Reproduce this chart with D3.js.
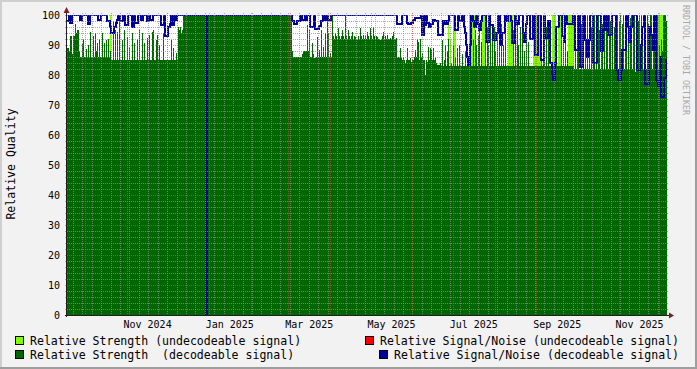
<!DOCTYPE html>
<html>
<head>
<meta charset="utf-8">
<script src="https://cdnjs.cloudflare.com/ajax/libs/d3/7.8.5/d3.min.js"></script>
<style>
	html, body { margin: 0; padding: 0; background: #F2F2F2; }
	svg { display: block; }
	text { white-space: pre; }
</style>
</head>
<body>
<div id="graph"></div>
<script>
// Time window of the graph, every series below has one slot per pixel column
const timeStart = Date.UTC(2024, 8, 17, 16, 48);
const timeEnd = Date.UTC(2025, 11, 6, 21, 36);

// Relative Strength (decodeable signal), one value per slot
const strengthGood = [
	89, 89, 88, 93, 93, 87, 93, 93, 97, 94,
	95, 95, 88, 86, 86, 90.5, 92, 86, 86, 88.6,
	86, 90, 86, 94.4, 86, 86, 93, 86, 94, 88,
	90.6, 86, 92, 86, 86, 94, 86, 90.6, 86, 91.7,
	86, 92, 86, 88, 85, 85, 98, 85, 95, 85,
	94.4, 85, 98, 85, 85, 91.7, 85, 95, 85, 85,
	92.8, 85, 89.4, 85, 85, 94, 85, 90.6, 85, 85,
	92, 85, 95, 85, 85, 94, 85, 90.6, 85, 85,
	92.2, 85, 93.3, 85, 85, 94.4, 95, 85, 85, 91.7,
	93.3, 85, 90, 85, 85, 85, 93.9, 85, 85, 85,
	85, 85, 85, 85, 91.7, 85, 89, 85, 85, 87.2,
	85, 96, 95, 96, 94, 95, 100, 100, 100, 100,
	100, 100, 100, 100, 100, 100, 100, 100, 100, 100,
	100, 100, 100, 100, 100, 100, 100, 100, 100, 100,
	100, 100, 100, 100, 100, 100, 100, 100, 100, 100,
	100, 100, 100, 100, 100, 100, 100, 100, 100, 100,
	100, 100, 100, 100, 100, 100, 100, 100, 100, 100,
	100, 100, 100, 100, 100, 100, 100, 100, 100, 100,
	100, 100, 100, 100, 100, 100, 100, 100, 100, 100,
	100, 100, 100, 100, 100, 100, 100, 100, 100, 100,
	100, 100, 100, 100, 100, 100, 100, 100, 100, 100,
	100, 100, 100, 100, 100, 100, 100, 100, 100, 100,
	100, 100, 100, 100, 100, 88, 86, 86, 86, 86,
	86, 86, 86, 86, 86, 87, 88, 88, 88, 88,
	96.7, 88, 95, 86, 86, 90.6, 87, 85.6, 85.6, 86,
	92.8, 86, 88.3, 86, 95, 86, 89.4, 86, 93.9, 86,
	98.3, 93.9, 86, 87.2, 86, 100, 93, 92, 94, 93,
	92, 95.6, 93, 92, 93, 95, 93, 92, 100, 93,
	92, 95, 93, 92, 93, 94.4, 92, 93, 92.8, 92,
	91.7, 93, 92, 95.6, 93, 92, 93.3, 92, 93, 92,
	94.4, 93, 92, 95.6, 93, 92, 96.1, 93, 92, 93,
	92.8, 92, 92, 91.7, 92, 93, 94.4, 92, 93, 92,
	93.3, 92, 92, 92.2, 92, 93, 94.4, 92, 92, 92.2,
	85.6, 86, 85.6, 88.9, 85.6, 85, 86, 85, 83.9, 85,
	88.9, 85, 85, 85.6, 84.4, 85, 85, 86, 88.3, 86,
	92, 91, 85, 92, 86, 87.2, 85, 85, 80, 85,
	84.4, 89.4, 85, 89, 88.3, 85, 89, 85, 85.6, 84,
	83.3, 83.3, 83.3, 83.9, 83, 91.7, 83, 85, 90, 83,
	88, 92, 83, 83, 84, 83, 90, 83, 86, 83,
	89, 83, 90, 83, 83, 87, 83, 83, 88, 83,
	83, 83, 83, 83, 83, 83, 92, 83, 95, 90,
	83, 93, 96, 83, 91, 83, 83, 83, 94, 83,
	96, 90, 83, 97, 83, 93, 83, 96, 88, 83,
	95, 83, 92, 83, 97, 83, 90, 83, 94, 83,
	83, 83, 83, 83, 83, 83, 95, 83, 92, 83,
	97, 90, 83, 96, 83, 94, 83, 88, 83, 95,
	83, 91, 83, 83, 83, 83, 83, 83, 83, 83,
	83, 83, 83, 83, 93, 83, 97, 88, 83, 96,
	83, 92, 83, 83, 83, 83, 83, 83, 83, 90,
	83, 83, 83, 83, 95, 83, 92, 83, 97, 83,
	88, 83, 83, 83, 83, 83, 83, 82, 94, 82,
	96, 90, 82, 82, 97, 82, 93, 82, 95, 82,
	100, 82, 91, 82, 96, 82, 98, 100, 82, 97,
	82, 100, 95, 82, 100, 97, 82, 99, 82, 100,
	96, 82, 100, 98, 82, 100, 82, 96, 100, 82,
	100, 82, 98, 100, 82, 97, 100, 82, 100, 96,
	82, 100, 82, 99, 100, 82, 97, 100, 81, 100,
	82, 98, 100, 82, 100, 96, 82, 100, 98, 82,
	100, 97, 82, 100, 100, 82, 100, 98, 82, 100,
	100, 82, 90, 86, 92, 88, 100, 100, 100, 98
];

// Relative Strength (undecodeable signal): [slot, value], only where it shows
const strengthBad = [
	[43, 100], [381, 100], [383, 92], [386, 100], [387, 100], [388, 100],
	[402, 100], [403, 100], [404, 100], [405, 100], [407, 100],
	[415, 100], [416, 100], [417, 100], [418, 100],
	[441, 98], [442, 100], [443, 100], [444, 98], [445, 100],
	[466, 100], [467, 100], [468, 100], [469, 100], [470, 100], [471, 100], [472, 100], [473, 100],
	[485, 100], [486, 100], [487, 100], [488, 100], [491, 100], [492, 100], [493, 100],
	[501, 100], [502, 100], [503, 100], [504, 100], [505, 100], [506, 100],
	[591, 100], [592, 100], [593, 100], [594, 100], [595, 100]
];

// Relative Signal/Noise (decodeable signal), one value per slot
const snrGood = [
	98, 98, 100, 97.5, 97.5, 100, 100, 100, 100, 100,
	100, 100, 100, 98.5, 98.5, 100, 100, 100, 100, 100,
	100, 97, 97, 100, 100, 100, 100, 100, 100, 100,
	100, 98.5, 98.5, 98.5, 100, 100, 100, 100, 100, 100,
	98, 98, 98, 96, 94, 94, 94, 96, 96, 97.5,
	98.5, 100, 100, 98, 98, 98, 100, 100, 96.7, 96.7,
	96.7, 100, 100, 100, 100, 96, 96, 100, 97.2, 97.2,
	97.2, 100, 100, 100, 98.5, 98.5, 100, 100, 100, 100,
	98, 98, 100, 98.5, 98.5, 98.5, 100, 100, 100, 100,
	100, 100, 100, 100, 96.7, 96.7, 96.7, 100, 93, 93,
	93, 96, 96, 97, 100, 96.7, 96.7, 100, 98.5, 98.5,
	100, 100, 100, 100, 100, 100, 100, 100, 100, 100,
	100, 100, 100, 100, 100, 100, 100, 100, 100, 100,
	100, 100, 100, 100, 100, 100, 100, 100, 100, 0,
	100, 100, 100, 100, 100, 100, 100, 100, 100, 100,
	100, 100, 100, 100, 100, 100, 100, 100, 100, 100,
	100, 100, 100, 100, 100, 100, 100, 100, 100, 100,
	100, 100, 100, 100, 100, 100, 100, 100, 100, 100,
	100, 100, 100, 100, 100, 100, 100, 100, 100, 100,
	100, 100, 100, 100, 100, 100, 100, 100, 100, 100,
	100, 100, 100, 100, 100, 100, 100, 100, 100, 100,
	100, 100, 100, 100, 100, 100, 100, 100, 100, 100,
	100, 100, 100, 100, 100, 98, 98, 97, 97, 97,
	98, 98, 98, 100, 100, 98.5, 98.5, 98.5, 100, 98.5,
	100, 100, 100, 96, 96, 96, 96, 100, 95.5, 95.5,
	95.5, 95.5, 96.5, 96.5, 98, 98, 100, 98.5, 98.5, 100,
	100, 98.5, 98.5, 98.5, 100, 100, 100, 100, 100, 100,
	100, 100, 100, 100, 100, 100, 100, 100, 100, 100,
	100, 100, 100, 100, 100, 100, 100, 100, 100, 100,
	100, 100, 100, 100, 100, 100, 100, 100, 100, 100,
	100, 100, 100, 100, 100, 100, 100, 100, 100, 100,
	100, 100, 100, 100, 100, 100, 100, 100, 100, 100,
	100, 100, 100, 100, 100, 100, 100, 100, 100, 100,
	97, 97, 97, 97, 97, 100, 100, 100, 100, 100,
	97.5, 97, 97, 97, 97.5, 97.5, 98.5, 98.5, 99, 99,
	99, 99, 99, 99, 100, 93.3, 93.3, 100, 96.7, 100,
	97.5, 97.5, 96, 96, 97, 97, 98.5, 98.5, 98, 98,
	98, 93.3, 93.3, 93.3, 93.5, 93.5, 98, 97, 97, 98,
	97, 98, 100, 100, 100, 100, 100, 100, 95, 95,
	95, 100, 98, 98, 98, 100, 100, 96, 94, 90,
	86, 83.3, 83.3, 90, 100, 100, 98, 96, 96, 100,
	100, 97, 95, 95, 98, 100, 100, 100, 100, 91,
	91, 91, 100, 96.7, 96.7, 96.7, 91.7, 91.7, 91.7, 94,
	94, 100, 100, 90, 90, 94, 94, 94, 100, 98,
	98, 100, 100, 100, 98, 90.6, 90.6, 90.6, 100, 98,
	97, 97, 100, 100, 100, 100, 94, 91, 91, 97,
	100, 100, 100, 92, 92, 92, 100, 100, 86.7, 86.7,
	86.7, 100, 100, 100, 85, 85, 85, 100, 92.2, 92.2,
	92.2, 98, 98, 84, 84, 80, 78.3, 78.3, 84, 96,
	96, 96, 100, 100, 100, 93, 93, 91, 100, 100,
	97, 97, 97, 97, 97, 97, 100, 100, 88.3, 88.3,
	88.3, 100, 100, 82.8, 82.8, 82.8, 100, 100, 91.7, 91.7,
	86, 86, 91.7, 100, 100, 100, 84, 84, 84, 84,
	100, 100, 100, 100, 88, 88, 95, 100, 100, 95,
	100, 93.3, 93.3, 93.3, 93.3, 100, 100, 100, 100, 81.7,
	81.7, 78.3, 78.3, 78.3, 81.7, 88.3, 88.3, 88.3, 88.3, 100,
	100, 96, 91, 91, 96, 96, 100, 100, 100, 100,
	81.7, 81.7, 81.7, 81.7, 90, 96, 96, 100, 77, 77,
	77, 77, 96, 96, 93.3, 93.3, 88.3, 100, 100, 78,
	78, 76, 76, 86, 72.8, 72.8, 72.8, 79, 79, 85
];

// Relative Signal/Noise (undecodeable signal): nothing recorded in this window
const snrBad = [];

const legendLabels = [
	'Relative Strength (undecodeable signal)',
	'Relative Strength  (decodeable signal)',
	'Relative Signal/Noise (undecodeable signal)',
	'Relative Signal/Noise (decodeable signal)'
];
const yTitle = 'Relative Quality';
const watermark = 'RRDTOOL / TOBI OETIKER';

function Chart() {
	var attrs = {
		svgWidth: 697,
		svgHeight: 369,
		marginLeft: 67,
		marginTop: 15,
		chartWidth: 600,
		chartHeight: 300,
		container: '#graph',
		font: '"DejaVu Sans Mono", "Liberation Mono", monospace',
		colors: {
			back: '#F2F2F2', canvas: '#FFFFFF', shadeA: '#CFCFCF', shadeB: '#9E9E9E',
			grid: 'rgba(143,143,143,0.75)', mgrid: 'rgba(222,79,79,0.6)',
			arrow: '#801F1F', axis: '#1F1F1F', font: '#000000',
			strengthBad: '#80FF00', strengthGood: '#006600', snrBad: '#FF0000', snrGood: '#000099'
		}
	};

	var main = function () {
		var c = attrs.colors;
		var x0 = attrs.marginLeft, x1 = x0 + attrs.chartWidth;
		var y0 = attrs.marginTop, y1 = y0 + attrs.chartHeight;

		var svg = d3.select(attrs.container).append('svg')
			.attr('width', attrs.svgWidth)
			.attr('height', attrs.svgHeight)
			.style('font-family', attrs.font);

		// Background with rrdtool style shading
		svg.append('rect').attr('width', attrs.svgWidth).attr('height', attrs.svgHeight).attr('fill', c.back);
		svg.append('path').attr('fill', c.shadeA)
			.attr('d', `M0,0H${attrs.svgWidth}V2H2V${attrs.svgHeight}H0Z`);
		svg.append('path').attr('fill', c.shadeB)
			.attr('d', `M${attrs.svgWidth},0V${attrs.svgHeight}H0V${attrs.svgHeight - 2}H${attrs.svgWidth - 2}V0Z`);

		// Scales
		var x = d3.scaleUtc().domain([timeStart, timeEnd]).range([x0, x1]);
		var y = d3.scaleLinear().domain([0, 100]).range([y1, y0]);

		var slots = strengthGood.length;
		var slotDate = i => new Date(timeStart + i * (timeEnd - timeStart) / slots);

		// Canvas
		svg.append('rect').attr('x', x0).attr('y', y0)
			.attr('width', attrs.chartWidth).attr('height', attrs.chartHeight).attr('fill', c.canvas);

		svg.append('clipPath').attr('id', 'plot-clip')
			.append('rect').attr('x', x0).attr('y', y0)
			.attr('width', attrs.chartWidth).attr('height', attrs.chartHeight);

		var plot = svg.append('g').attr('clip-path', 'url(#plot-clip)');

		// Undecodeable strength, drawn first
		plot.append('g').selectAll('rect').data(strengthBad).join('rect')
			.attr('x', d => x(slotDate(d[0])))
			.attr('width', d => x(slotDate(d[0] + 1)) - x(slotDate(d[0])))
			.attr('y', d => y(d[1]))
			.attr('height', d => y(0) - y(d[1]))
			.attr('fill', c.strengthBad)
			.attr('shape-rendering', 'crispEdges');

		// Decodeable strength area
		var goodPoints = strengthGood.map((v, i) => ({ t: slotDate(i), v: v }));
		goodPoints.push({ t: slotDate(slots), v: strengthGood[slots - 1] });

		plot.append('path').datum(goodPoints)
			.attr('d', d3.area().x(d => x(d.t)).y0(y(0)).y1(d => y(d.v)).curve(d3.curveStepAfter))
			.attr('fill', c.strengthGood)
			.attr('shape-rendering', 'crispEdges');

		// Signal/noise lines
		var lineFn = d3.line().x(d => x(d.t)).y(d => y(d.v)).curve(d3.curveStepAfter);

		[[snrBad, c.snrBad], [snrGood, c.snrGood]].forEach(function (s) {
			if (!s[0].length) return;
			var pts = s[0].map((v, i) => ({ t: slotDate(i), v: v }));
			pts.push({ t: slotDate(s[0].length), v: s[0][s[0].length - 1] });
			plot.append('path').datum(pts)
				.attr('d', lineFn)
				.attr('fill', 'none')
				.attr('stroke', s[1])
				.attr('stroke-width', 2)
				.attr('shape-rendering', 'crispEdges');
		});

		// Grid on top, extended 2px past the canvas
		var grid = svg.append('g').attr('shape-rendering', 'crispEdges').attr('stroke-dasharray', '1,1');
		var majorY = y.ticks(10);
		var minorY = y.ticks(50).filter(v => majorY.indexOf(v) < 0);
		var majorX = x.ticks(d3.utcMonth);
		var minorX = x.ticks(d3.utcSunday);

		function hLines(vals, color) {
			grid.append('g').selectAll('line').data(vals).join('line')
				.attr('x1', x0 - 2).attr('x2', x1 + 2)
				.attr('y1', d => Math.round(y(d)) + 0.5).attr('y2', d => Math.round(y(d)) + 0.5)
				.attr('stroke', color);
		}
		function vLines(vals, color) {
			grid.append('g').selectAll('line').data(vals).join('line')
				.attr('y1', y0 - 2).attr('y2', y1 + 2)
				.attr('x1', d => Math.round(x(d)) + 0.5).attr('x2', d => Math.round(x(d)) + 0.5)
				.attr('stroke', color);
		}
		hLines(minorY, c.grid);
		vLines(minorX, c.grid);
		hLines(majorY.filter(v => v > 0), c.mgrid);
		vLines(majorX, c.mgrid);

		// Axes and arrows
		var axis = svg.append('g').attr('shape-rendering', 'crispEdges');
		axis.append('line').attr('x1', x0 - 0.5).attr('x2', x0 - 0.5).attr('y1', y1 + 2).attr('y2', y0 - 4)
			.attr('stroke', c.axis);
		axis.append('line').attr('x1', x0 - 2).attr('x2', x1 + 3).attr('y1', y1 + 0.5).attr('y2', y1 + 0.5)
			.attr('stroke', c.axis);
		svg.append('path').attr('fill', c.arrow)
			.attr('d', `M${x0 - 3.5},${y0 - 2}L${x0 - 0.5},${y0 - 8}L${x0 + 2.5},${y0 - 2}Z`);
		svg.append('path').attr('fill', c.arrow)
			.attr('d', `M${x1 + 2},${y1 - 2.5}L${x1 + 7},${y1 + 0.5}L${x1 + 2},${y1 + 3.5}Z`);

		// Y tick labels
		svg.append('g').selectAll('text').data(majorY).join('text')
			.attr('x', x0 - 7)
			.attr('y', d => y(d) + 3.6)
			.attr('text-anchor', 'end')
			.attr('font-size', '10px')
			.attr('fill', c.font)
			.text(d => d);

		// X labels, centred half a month after the month start
		var labelMonths = d3.utcMonth.every(2).range(new Date(timeStart), new Date(timeEnd));
		svg.append('g').selectAll('text').data(labelMonths).join('text')
			.attr('x', d => x(d3.utcHour.offset(d, 372)))
			.attr('y', y1 + 13)
			.attr('text-anchor', 'middle')
			.attr('font-size', '10px')
			.attr('fill', c.font)
			.text(d => d3.utcFormat('%b %Y')(d));

		// Axis title
		svg.append('text')
			.attr('transform', `translate(15,164) rotate(-90)`)
			.attr('text-anchor', 'middle')
			.attr('font-size', '11.55px')
			.attr('fill', c.font)
			.text(yTitle);

		// Watermark
		svg.append('text')
			.attr('transform', `translate(683,5) rotate(90)`)
			.attr('font-size', '8.3px')
			.attr('fill', '#A8A8A8')
			.text(watermark);

		// Legend
		var legend = [
			{ label: legendLabels[0], color: c.strengthBad, bx: 15, tx: 30, ty: 345 },
			{ label: legendLabels[1], color: c.strengthGood, bx: 15, tx: 30, ty: 359 },
			{ label: legendLabels[2], color: c.snrBad, bx: 365, tx: 380, ty: 345 },
			{ label: legendLabels[3], color: c.snrGood, bx: 379, tx: 394, ty: 359 }
		];
		var items = svg.append('g').selectAll('g').data(legend).join('g');
		items.append('rect')
			.attr('x', d => d.bx + 0.5).attr('y', d => d.ty - 8.5)
			.attr('width', 8).attr('height', 8)
			.attr('fill', d => d.color)
			.attr('stroke', '#000')
			.attr('shape-rendering', 'crispEdges');
		items.append('text')
			.attr('x', d => d.tx).attr('y', d => d.ty)
			.attr('font-size', '11.55px')
			.attr('fill', c.font)
			.text(d => d.label);
	};

	main.render = function () {
		main();
		return main;
	};

	return main;
}

Chart().render();
</script>
</body>
</html>
